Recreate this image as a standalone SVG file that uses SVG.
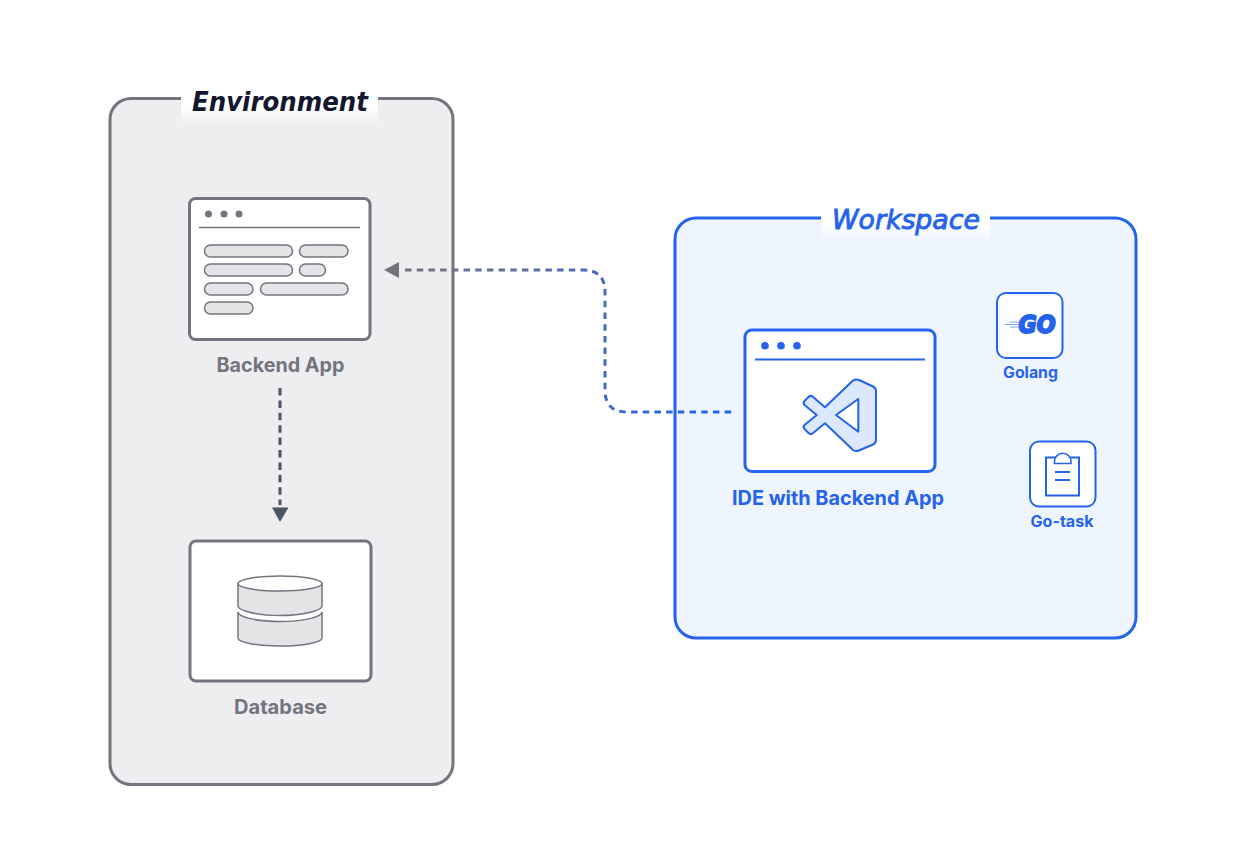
<svg xmlns="http://www.w3.org/2000/svg" width="1246" height="856" viewBox="0 0 1246 856">
<style>
.gb{stroke:#74747f;stroke-width:3;fill:#fff}
.pill{fill:#e4e4e7;stroke:#74747f;stroke-width:1.5}
.cyl{fill:#e4e4e7;stroke:#74747f;stroke-width:1.5}
.bb{stroke:#2563eb;fill:#fff}
text{font-family:Inter,"Liberation Sans",sans-serif;font-weight:700;text-anchor:middle}
.gl{fill:#74747f;font-size:20px}
.bl{fill:#2563eb}
.title{font-family:"DejaVu Sans",sans-serif;font-style:italic}
.envt{font-weight:700}
.wst{font-weight:400}
.go{font-family:"DejaVu Sans",sans-serif;font-weight:700;font-style:italic}
</style>
<defs>
<linearGradient id="tg" x1="0" y1="0" x2="0" y2="1"><stop offset="0.6" stop-color="#fff"/><stop offset="1" stop-color="#eeeef0"/></linearGradient>
<linearGradient id="tb" x1="0" y1="0" x2="0" y2="1"><stop offset="0.5" stop-color="#fff"/><stop offset="1" stop-color="#eff5ff"/></linearGradient>
<linearGradient id="cg" gradientUnits="userSpaceOnUse" x1="405" y1="270" x2="730" y2="412"><stop offset="0" stop-color="#74747f"/><stop offset="1" stop-color="#2563eb"/></linearGradient>
</defs>
<rect width="1246" height="856" fill="#fff"/>
<g id="environment">
<rect x="110" y="98.500" width="343" height="686" rx="21" fill="#eeeef0" stroke="#74747f" stroke-width="3"/>
<rect x="181" y="80" width="197" height="45" fill="url(#tg)"/>
<text class="title envt" x="280" y="111" font-size="27" fill="#14172e" textLength="176" lengthAdjust="spacingAndGlyphs">Environment</text>
</g>
<g id="workspace">
<rect x="675" y="218" width="461" height="420" rx="21" fill="#eff5ff" stroke="#2563eb" stroke-width="3"/>
<rect x="821" y="205" width="169" height="36" fill="url(#tb)"/>
<text class="title wst" x="906" y="229" font-size="27" fill="#2563eb" stroke="#2563eb" stroke-width="0.9" textLength="148" lengthAdjust="spacingAndGlyphs">Workspace</text>
</g>
<g id="connectors">
<path d="M405 270H583Q605 270 605 292V390Q605 412 627 412H732" fill="none" stroke="url(#cg)" stroke-width="3" stroke-dasharray="6.500 5.200"/>
<path d="M384 270L399 262V278Z" fill="#74747f"/>
<path d="M280 388V505" fill="none" stroke="#4b5563" stroke-width="3" stroke-dasharray="7.500 4.900"/>
<path d="M272 507.500H288.500L280 522Z" fill="#4b5563"/>
</g>
<g id="backend-app">
<rect class="gb" x="189.500" y="198.500" width="180.500" height="141" rx="6"/>
<g fill="#74747f"><circle cx="208.500" cy="214" r="3.500"/><circle cx="224" cy="214" r="3.500"/><circle cx="239" cy="214" r="3.500"/></g>
<path d="M199 227.500H360" stroke="#74747f" stroke-width="1.500"/>
<rect class="pill" x="204.500" y="245" width="88" height="12" rx="6"/>
<rect class="pill" x="299.500" y="245" width="48.500" height="12" rx="6"/>
<rect class="pill" x="204.500" y="264" width="88" height="12" rx="6"/>
<rect class="pill" x="299.500" y="264" width="26" height="12" rx="6"/>
<rect class="pill" x="204.500" y="283" width="48.500" height="12" rx="6"/>
<rect class="pill" x="260.500" y="283" width="87.500" height="12" rx="6"/>
<rect class="pill" x="204.500" y="302" width="48.500" height="12" rx="6"/>
<text class="gl" x="280.500" y="372" textLength="128" lengthAdjust="spacingAndGlyphs">Backend App</text>
</g>
<g id="database">
<rect class="gb" x="190" y="541" width="181" height="140" rx="6"/>
<path class="cyl" d="M238 612V638C238 642.500 257 646 280 646S322 642.500 322 638V612C322 617 303 621.500 280 621.500S238 617 238 612Z"/>
<path class="cyl" d="M238 583.500V606C238 610.500 257 615.500 280 615.500S322 610.500 322 606V583.500Z"/>
<ellipse cx="280" cy="583.500" rx="42" ry="7.500" fill="#fff" stroke="#74747f" stroke-width="1.500"/>
<text class="gl" x="280.500" y="714" textLength="93" lengthAdjust="spacingAndGlyphs">Database</text>
</g>
<g id="ide">
<rect class="bb" x="745" y="330" width="190" height="141.500" rx="7" stroke-width="3"/>
<g fill="#2563eb"><circle cx="765" cy="345.700" r="3.800"/><circle cx="781" cy="345.700" r="3.800"/><circle cx="797" cy="345.700" r="3.800"/></g>
<path d="M755 359.500H925" stroke="#2563eb" stroke-width="2"/>
<path d="M853 380.500Q856 378.700 859 380L873 386.500Q876 388 876 391V440Q876 443 873 444.500L859 450.500Q856 451.800 853 450L825 423.300L812.500 433.500Q810.500 435 808.500 433L804.500 429Q802.500 427 804.500 425L816.700 415L804.500 405Q802.500 403 804.500 401L808.500 397Q810.500 395 812.500 396.500L825 407.300Z" fill="#dbe8fd" stroke="#2563eb" stroke-width="2" stroke-linejoin="round"/>
<path d="M858.300 399L836 415L858.300 431.700Z" fill="#fff" stroke="#2563eb" stroke-width="2" stroke-linejoin="round"/>
<text class="bl" x="838" y="505" font-size="20" textLength="212" lengthAdjust="spacingAndGlyphs">IDE with Backend App</text>
</g>
<g id="golang">
<rect class="bb" x="997" y="293" width="65.500" height="65" rx="9" stroke-width="2"/>
<path d="M1009 322H1019M1005 324.500H1018M1010 327H1018" stroke="#7fa4f2" stroke-width="1.200"/>
<text class="go" x="1037" y="333" font-size="24" fill="#2563eb" stroke="#2563eb" stroke-width="2" textLength="37" lengthAdjust="spacingAndGlyphs">GO</text>
<text class="bl" x="1030.500" y="378" font-size="15.500" textLength="55" lengthAdjust="spacingAndGlyphs">Golang</text>
</g>
<g id="go-task">
<rect class="bb" x="1030" y="441.500" width="65.500" height="65" rx="9" stroke-width="2"/>
<path d="M1046 457.500H1079V495.500H1046Z" fill="none" stroke="#2563eb" stroke-width="2"/>
<path d="M1054.500 463.500V461.500A8.200 8.200 0 0 1 1071 461.500V463.500Z" fill="#fff" stroke="#2563eb" stroke-width="1.600"/>
<path d="M1055 472H1070M1055 480H1070" stroke="#2563eb" stroke-width="1.800"/>
<text class="bl" x="1062" y="527" font-size="15.500" textLength="63" lengthAdjust="spacingAndGlyphs">Go-task</text>
</g>
</svg>
